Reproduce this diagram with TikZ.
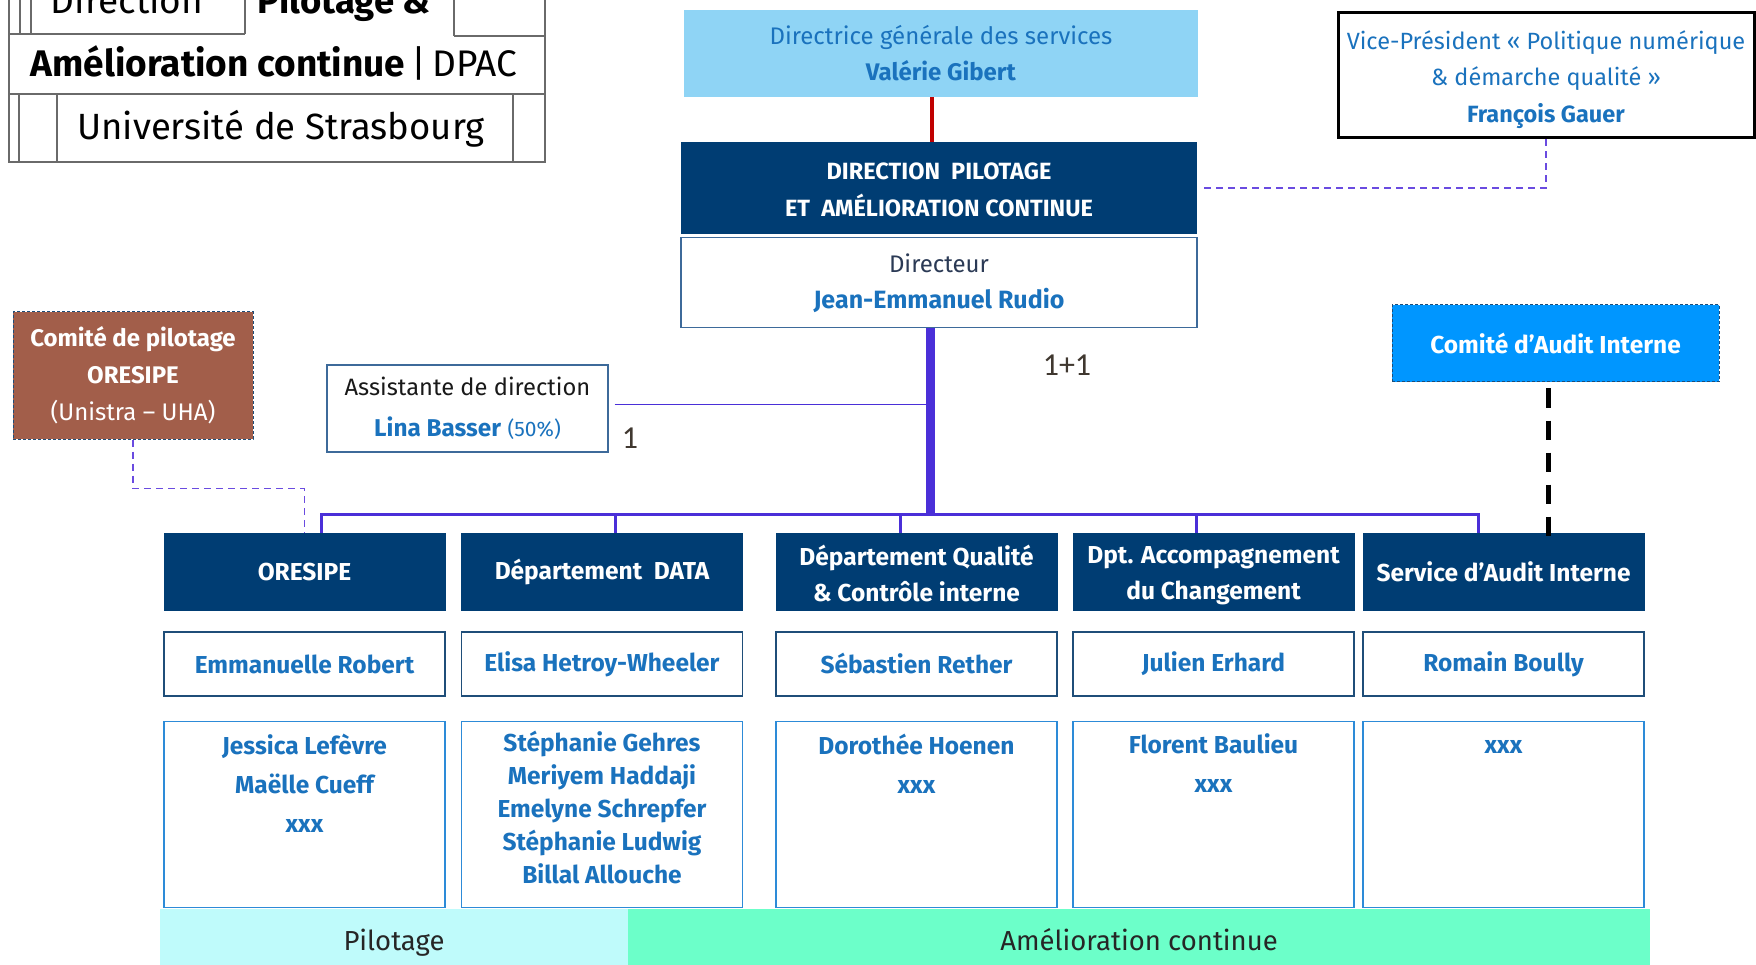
\documentclass[tikz,border=0pt]{standalone}
\usepackage{fontspec}
\setmainfont{Fira Sans}
\newfontfamily\numfont{Carlito}
\usetikzlibrary{positioning,calc}

\definecolor{dpacnavy}{HTML}{003D73}
\definecolor{dgsfill}{HTML}{8FD4F5}
\definecolor{namblue}{HTML}{1A72BD}
\definecolor{darkslate}{HTML}{2B3A55}
\definecolor{boxedge}{HTML}{3D6A9A}
\definecolor{persedge}{HTML}{1F4E79}
\definecolor{teamedge}{HTML}{2D8BD8}
\definecolor{linkpurple}{HTML}{4A2FD8}
\definecolor{dashpurple}{HTML}{6A4BE0}
\definecolor{linkred}{HTML}{C00000}
\definecolor{copilfill}{HTML}{A25E4A}
\definecolor{caifill}{HTML}{0096FF}
\definecolor{pilotband}{HTML}{BFFBFB}
\definecolor{ameliorband}{HTML}{6CFFC9}
\definecolor{numgray}{HTML}{403830}
\definecolor{tablegray}{HTML}{6A6A6A}

\newcommand\fsz[2]{\fontsize{#1}{#2}\selectfont}

\tikzset{x=1pt, y=-1pt, % one unit = one pixel of the reference, y going down
        every node/.style={inner sep=0pt, align=center},
        navybox/.style={ % department headers
            fill=dpacnavy, text=white,
            minimum width=282, minimum height=78,
            font=\fsz{24.5}{36}\bfseries},
        personbox/.style={ % head of each department
            draw=persedge, line width=1.5pt, text=namblue,
            minimum width=281, minimum height=64,
            font=\fsz{24.5}{36}\bfseries},
        teambox/.style={ % staff of each department
            draw=teamedge, line width=1.3pt,
            minimum width=281, minimum height=186},
        teamnames/.style={text=namblue, anchor=north, font=\fsz{24.5}{39}\bfseries},
        whitebox/.style={draw=boxedge, line width=1.3pt, fill=white},
        dashbox/.style={draw=persedge, line width=1pt, dash pattern=on 3pt off 2pt, text=white},
        band/.style={minimum height=56, text height=31pt, text depth=5pt, text=black!85, font=\fsz{27.5}{30}},
        trunk/.style={draw=linkpurple, line width=9pt},
        branch/.style={draw=linkpurple, line width=3pt},
        thinlink/.style={draw=linkpurple, line width=1.5pt},
        dashlink/.style={draw=dashpurple, line width=1.5pt, dash pattern=on 7pt off 5pt},
        auditlink/.style={draw=black, line width=5pt, dash pattern=on 19pt off 13pt},
        tableline/.style={draw=tablegray, line width=1.5pt}
        }

\begin{document}
\begin{tikzpicture}
    \useasboundingbox (0,0) rectangle (1756,965);

    % title table, cut at the top
    \draw[tableline] (9,0) -- (9,162) -- (545,162) -- (545,0);
    \draw[tableline] (9,34) -- (245,34) (454,36) -- (545,36) (9,94) -- (545,94);
    \draw[tableline] (20,0) -- (20,34) (31,0) -- (31,34) (245,0) -- (245,34) (454,0) -- (454,36);
    \draw[tableline] (19,94) -- (19,162) (57,94) -- (57,162) (513,94) -- (513,162);
    \node[anchor=base, font=\fsz{37}{40}]            (tdir)  at (127,14)  {Direction};
    \node[anchor=base, font=\fsz{36.5}{40}\bfseries] (tpil)  at (344,14)  {Pilotage \&};
    \node[anchor=base, font=\fsz{37}{40}]            (tam)   at (274,76.5) {\textbf{Amélioration continue}\,|\,DPAC};
    \node[anchor=base, font=\fsz{36.5}{40}]          (tuni)  at (281,140) {Université de Strasbourg};

    % top of the chart
    \node[fill=dgsfill, minimum width=514, minimum height=87, text=namblue, font=\fsz{24}{36}]
        (dgs)   at (941,53.5)  {Directrice générale des services\\\textbf{Valérie Gibert}};
    \node[fill=dpacnavy, minimum width=516, minimum height=92, text=white, font=\fsz{23.5}{37}\bfseries]
        (dpac)  at (939,188)   {\rule{0pt}{20pt}DIRECTION\ \ PILOTAGE\\ET\ \ AMÉLIORATION CONTINUE};
    \node[whitebox, minimum width=516, minimum height=90, text=darkslate, font=\fsz{24}{36}]
        (dir)   [below=3pt of dpac] {Directeur\\\textcolor{namblue}{\fsz{25}{36}\bfseries Jean-Emmanuel Rudio}};
    \node[draw=black, line width=3pt, minimum width=416, minimum height=125, text=namblue, font=\fsz{23.5}{36.5}]
        (vp)    at (1546,75.5) {\rule{0pt}{26.5pt}Vice-Président « Politique numérique\\\& démarche qualité »\\\textbf{François Gauer}};

    % side boxes
    \node[dashbox, fill=copilfill, minimum width=240, minimum height=127, font=\fsz{24}{37}]
        (copil) at (133,375.5) {\textbf{Comité de pilotage}\\\textbf{ORESIPE}\\(Unistra – UHA)};
    \node[whitebox, minimum width=281, minimum height=87, text=black!90, font=\fsz{23.7}{41}]
        (asst)  at (467.5,408.5) {Assistante de direction\\\textcolor{namblue}{\fsz{24.3}{41}\textbf{Lina Basser} {\fsz{21}{24}(50\%)}}};
    \node[dashbox, fill=caifill, minimum width=327, minimum height=77, font=\fsz{24.5}{30}\bfseries]
        (cai)   at (1555.5,343.5) {Comité d’Audit Interne};

    % departments
    \node[navybox] (oresipe) at (304.5,572)  {ORESIPE};
    \node[navybox] (data)    at (602,572)    {Département\ \ DATA};
    \node[navybox] (qualite) at (916.5,572)  {\rule{0pt}{24pt}Département Qualité\\\& Contrôle interne};
    \node[navybox] (accomp)  at (1213.5,572) {\rule{0pt}{23.5pt}Dpt. Accompagnement\\du Changement};
    \node[navybox] (audit)   at (1503.5,572) {Service d’Audit Interne};

    \node[personbox] (p1) [below=20pt of oresipe] {Emmanuelle Robert};
    \node[personbox] (p2) [below=20pt of data]    {Elisa Hetroy-Wheeler};
    \node[personbox] (p3) [below=20pt of qualite] {Sébastien Rether};
    \node[personbox] (p4) [below=20pt of accomp]  {Julien Erhard};
    \node[personbox] (p5) [below=20pt of audit]   {Romain Boully};

    \node[teambox] (t1) [below=24pt of p1] {};
    \node[teambox] (t2) [below=24pt of p2] {};
    \node[teambox] (t3) [below=24pt of p3] {};
    \node[teambox] (t4) [below=24pt of p4] {};
    \node[teambox] (t5) [below=24pt of p5] {};
    \node[teamnames] (n1) at ([yshift=-13pt]t1.north) {Jessica Lefèvre\\Maëlle Cueff\\xxx};
    \node[teamnames, font=\fsz{24.5}{33}\bfseries] (n2) at ([yshift=-10pt]t2.north)
        {Stéphanie Gehres\\Meriyem Haddaji\\Emelyne Schrepfer\\Stéphanie Ludwig\\Billal Allouche};
    \node[teamnames] (n3) at ([yshift=-13pt]t3.north) {Dorothée Hoenen\\xxx};
    \node[teamnames] (n4) at ([yshift=-13pt]t4.north) {Florent Baulieu\\xxx};
    \node[teamnames] (n5) at ([yshift=-20pt]t5.north) {xxx};

    \node[band, fill=pilotband, minimum width=468]    (pilot)  at (394,937)  {Pilotage};
    \node[band, fill=ameliorband, minimum width=1022] (amelio) at (1139,937) {Amélioration continue};

    % links
    \coordinate (bus) at (930,514);
    \draw[draw=linkred, line width=4pt] ([xshift=-9pt]dgs.south) -- ([xshift=-9pt]dgs.south |- dpac.north);
    \draw[trunk] (dir.south -| bus) -- (bus);
    \draw[branch] ([xshift=17pt]oresipe.north) |- (bus) -| ([xshift=-25pt]audit.north);
    \draw[branch] ([xshift=13pt]data.north) -- ([xshift=13pt]data.north |- bus);
    \draw[branch] ([xshift=-16pt]qualite.north) -- ([xshift=-16pt]qualite.north |- bus);
    \draw[branch] ([xshift=-17pt]accomp.north) -- ([xshift=-17pt]accomp.north |- bus);
    \draw[thinlink] ([xshift=6pt,yshift=4pt]asst.east) -- ([yshift=4pt]asst.east -| bus);
    \draw[dashlink] (copil.south) -- ++(0,49) -| (oresipe.north);
    \draw[dashlink] (vp.south) |- ([xshift=3pt]dpac.east);
    \draw[auditlink] ([xshift=-7pt,yshift=-6pt]cai.south) -- ([xshift=-7pt,yshift=-5pt]cai.south |- audit.north);

    \node[text=numgray, font=\numfont\fsz{32}{34}] (one)    at (630,438)  {1};
    \node[text=numgray, font=\numfont\fsz{32}{34}] (oneone) at (1067,365) {1+1};
\end{tikzpicture}
\end{document}
